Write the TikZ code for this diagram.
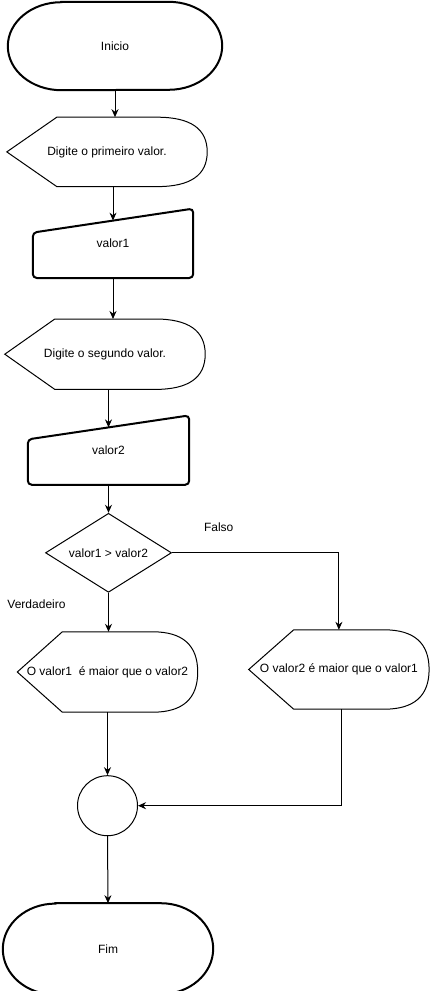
\documentclass[tikz,border=0pt]{standalone}
\usepackage{fontspec}
\setmainfont{Liberation Sans}
\usepackage{tikz}
\usetikzlibrary{positioning, arrows.meta, calc, shapes.geometric}

% outline of a display box: node, corner offset
\newcommand{\dispoutline}[2]{%
  \draw[flowline] (#1.west) -- ([xshift=#2pt]#1.north west)
    -- ([xshift=-#2pt]#1.north east)
    .. controls ([xshift=-#2/3*1pt]#1.north east)
       and ($(#1.east)!0.667!(#1.north east)$) .. (#1.east)
    .. controls ($(#1.east)!0.667!(#1.south east)$)
       and ([xshift=-#2/3*1pt]#1.south east) .. ([xshift=-#2pt]#1.south east)
    -- ([xshift=#2pt]#1.south west) -- cycle;}
% outline of a terminator: node, x radius, y radius
\newcommand{\termoutline}[3]{%
  \draw[boldline] ([xshift=#2pt]#1.north west) -- ([xshift=-#2pt]#1.north east)
    arc[start angle=90, end angle=-90, x radius=#2pt, y radius=#3pt]
    -- ([xshift=#2pt]#1.south west)
    arc[start angle=270, end angle=90, x radius=#2pt, y radius=#3pt] -- cycle;}
% outline of a manual input box
\newcommand{\manoutline}[1]{%
  \draw[boldline, rounded corners=4pt] ([yshift=-24pt]#1.north west)
    -- (#1.north east) -- (#1.south east) -- (#1.south west) -- cycle;
  \coordinate (#1-top) at ($([yshift=-24pt]#1.north west)!0.5!(#1.north east)$);}

\begin{document}
\begin{tikzpicture}[
  x=1pt, y=-1pt,
  flowline/.style={line width=1pt},
  boldline/.style={line width=2pt},
  termbox/.style={inner sep=0pt, align=center, font=\fontsize{12}{14}\selectfont},
  dispbox/.style={inner sep=0pt, align=center, font=\fontsize{12}{14}\selectfont},
  manbox/.style={inner sep=0pt, align=center, font=\fontsize{12}{14}\selectfont},
  decbox/.style={draw, diamond, shape aspect=1.6, line width=1pt, inner sep=0pt,
              minimum width=126pt, minimum height=79pt,
              font=\fontsize{12}{14}\selectfont},
  joinbox/.style={draw, circle, line width=1pt, inner sep=0pt, minimum size=60pt},
  lbl/.style={inner sep=0pt, font=\fontsize{12}{14}\selectfont},
  >={Stealth[length=8pt, width=7pt]}
]
  \useasboundingbox (0,0) rectangle (429,991);

  % Start and reading
  \node[termbox, minimum width=214pt, minimum height=88pt] (inicio) at (115,46) {Inicio};
  \node[dispbox, minimum width=200pt, minimum height=69pt,
        below=27pt of inicio, xshift=-8pt] (msg1) {Digite o primeiro valor.};
  \node[manbox, minimum width=160pt, minimum height=69pt,
        below=22pt of msg1, xshift=6pt] (val1) {valor1};
  \node[dispbox, minimum width=200pt, minimum height=70pt,
        below=41pt of val1, xshift=-8pt] (msg2) {Digite o segundo valor.};
  \node[manbox, minimum width=161pt, minimum height=69pt,
        below=26pt of msg2, xshift=3.5pt] (val2) {valor2};
  \termoutline{inicio}{53.5}{44}
  \dispoutline{msg1}{50}
  \manoutline{val1}
  \dispoutline{msg2}{50}
  \manoutline{val2}

  % Decision and outputs
  \node[decbox, below=28pt of val2] (cond) {valor1 \textgreater{} valor2};
  \node[dispbox, minimum width=180pt, minimum height=80pt,
        below=39pt of cond, xshift=-1pt] (out1) {O valor1~ é maior que o valor2};
  \node[dispbox, minimum width=180pt, minimum height=79pt,
        right=51pt of out1, yshift=2.5pt] (out2) {O valor2 é maior que o valor1};
  \dispoutline{out1}{45}
  \dispoutline{out2}{45}

  % Join and end
  \node[joinbox, below=63pt of out1] (junc) {};
  \node[termbox, minimum width=210pt, minimum height=91pt,
        below=67pt of junc, xshift=0.5pt] (fim) {Fim};
  \termoutline{fim}{52.5}{45.5}

  % Connectors
  \draw[->, flowline] (inicio.south) -- (inicio.south |- msg1.north);
  \draw[->, flowline] (val1-top |- msg1.south) -- (val1-top);
  \draw[->, flowline] (val1.south) -- (val1.south |- msg2.north);
  \draw[->, flowline] (val2-top |- msg2.south) -- (val2-top);
  \draw[->, flowline] (val2.south) -- (cond.north);
  \draw[->, flowline] (cond.south) --
    node[lbl, pos=0.3, xshift=-72pt] {Verdadeiro} (cond.south |- out1.north);
  \draw[->, flowline] (cond.east) -|
    node[lbl, pos=0.14, yshift=26pt] {Falso} (out2.north);
  \draw[->, flowline] (out1.south) -- (junc.north);
  \draw[->, flowline] ([xshift=3pt]out2.south) |- (junc.east);
  \draw[->, flowline] (junc.south) -- (fim.north);
\end{tikzpicture}
\end{document}
